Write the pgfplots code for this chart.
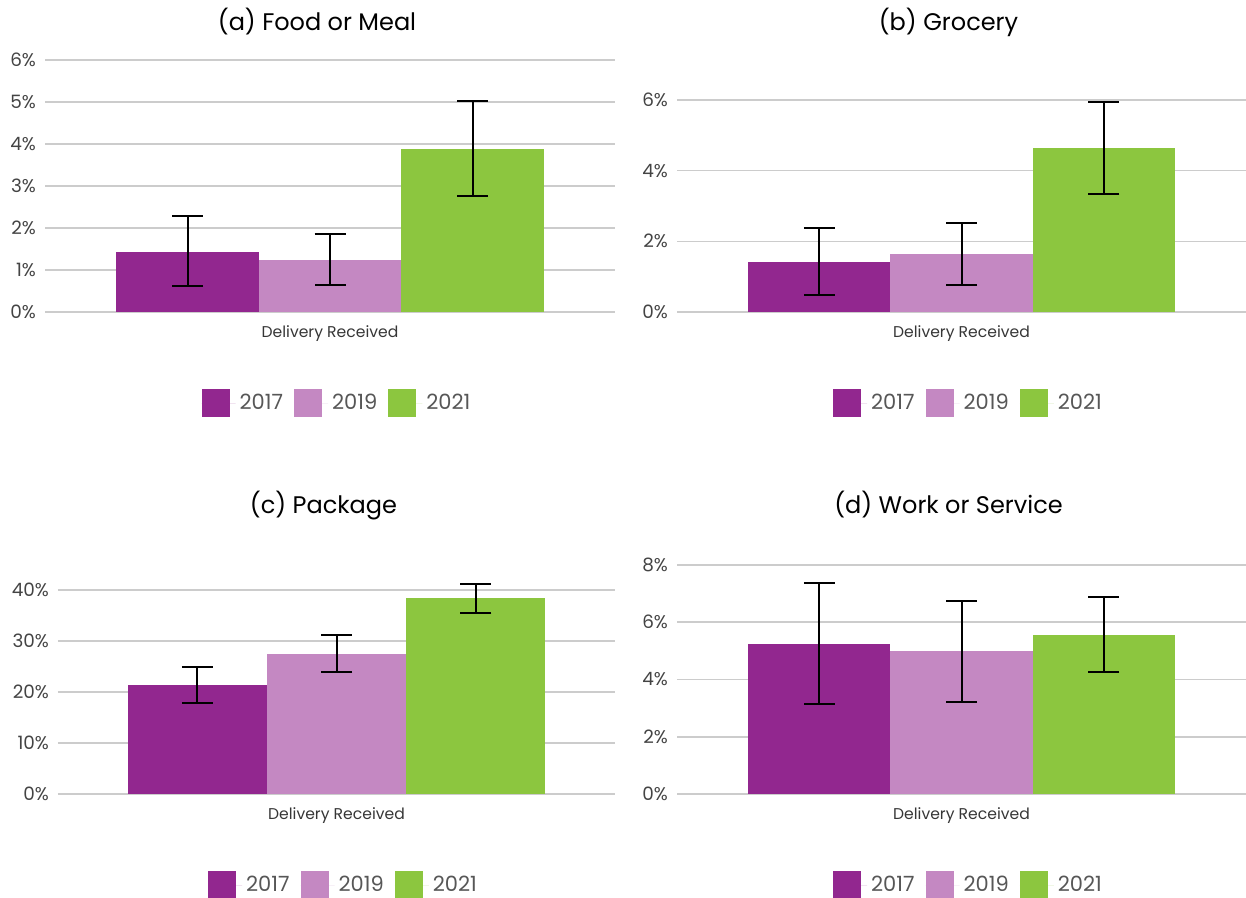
\documentclass[border=0pt]{standalone}
\usepackage{fontspec}
\setmainfont{Poppins}
\usepackage{pgfplots}
\pgfplotsset{compat=1.18}
\definecolor{cA}{HTML}{92278F}
\definecolor{cB}{HTML}{C488C2}
\definecolor{cC}{HTML}{8CC63F}
\definecolor{gridc}{HTML}{CCCCCC}
\definecolor{tickc}{HTML}{444444}
\pgfplotsset{
  panel/.style={
    scale only axis,
    anchor=south west,
    xmin=-2, xmax=2, ymin=0,
    clip=false,
    axis line style={draw=none},
    major tick length=0pt,
    ymajorgrids,
    grid style={gridc, line width=0.8pt},
    xtick={0}, xticklabels={Delivery Received},
    xticklabel style={anchor=center, yshift=-11pt, font=\fontsize{7.8}{9}\selectfont, text=tickc!80!black},
    yticklabel style={font=\fontsize{9.2}{11}\selectfont, text=tickc, anchor=east, xshift=-1pt},
    /pgf/number format/assume math mode=true,
    yticklabel={\pgfmathprintnumber{\tick}\%},
    title style={at={(0.5,1)}, anchor=center, xshift=-6.5pt, font=\fontsize{12}{14}\selectfont},
    ybar, bar width=1, bar shift=0,
    legend style={at={(0.5,0)}, anchor=center, yshift=-45.5pt, xshift=4pt, draw=none, legend columns=3,
      font=\fontsize{10.5}{12}\selectfont, text=tickc!90, /tikz/every even column/.append style={column sep=3.5pt}},
    legend image code/.code={\fill[##1] (0pt,-7pt) rectangle (14pt,7pt); \path (0pt,0pt) -- (17pt,0pt);},
    error bars/y dir=both, error bars/y explicit,
    error bars/error bar style={black, line width=1pt},
    error bars/error mark options={black, line width=1pt, mark size=7.75pt, rotate=90},
  },
  bA/.style={fill=cA, draw=none},
  bB/.style={fill=cB, draw=none},
  bC/.style={fill=cC, draw=none},
}
\begin{document}
\begin{tikzpicture}
\path[use as bounding box] (0pt,0pt) rectangle (623pt,-449pt);
% (a)
\begin{axis}[panel, at={(22.5pt,-156pt)}, width=285pt, height=126pt, ymax=6,
  ytick={0,1,2,3,4,5,6}, title={(a) Food or Meal}, title style={yshift=13pt}]
\addplot[bA] coordinates {(-1,1.43) += (0,0.86) -= (0,0.82)};
\addplot[bB] coordinates {(0,1.25) += (0,0.61) -= (0,0.61)};
\addplot[bC] coordinates {(1,3.89) += (0,1.14) -= (0,1.13)};
\legend{2017,2019,2021}
\end{axis}
% (b)
\begin{axis}[panel, at={(338.5pt,-156pt)}, width=284.5pt, height=106pt, ymax=6,
  ytick={0,2,4,6}, title={(b) Grocery}, title style={yshift=33pt}]
\addplot[bA] coordinates {(-1,1.41) += (0,0.96) -= (0,0.94)};
\addplot[bB] coordinates {(0,1.64) += (0,0.87) -= (0,0.89)};
\addplot[bC] coordinates {(1,4.63) += (0,1.32) -= (0,1.29)};
\legend{2017,2019,2021}
\end{axis}
% (c)
\begin{axis}[panel, at={(29pt,-397pt)}, width=278.5pt, height=127.5pt, ymax=50,
  ytick={0,10,20,30,40}, title={(c) Package}, title style={yshift=10.5pt}]
\addplot[bA] coordinates {(-1,21.3) += (0,3.7) -= (0,3.4)};
\addplot[bB] coordinates {(0,27.5) += (0,3.6) -= (0,3.6)};
\addplot[bC] coordinates {(1,38.4) += (0,2.8) -= (0,2.9)};
\legend{2017,2019,2021}
\end{axis}
% (d)
\begin{axis}[panel, at={(338.5pt,-397pt)}, width=284.5pt, height=114.5pt, ymax=8,
  ytick={0,2,4,6,8}, title={(d) Work or Service}, title style={yshift=24.5pt}]
\addplot[bA] coordinates {(-1,5.25) += (0,2.13) -= (0,2.12)};
\addplot[bB] coordinates {(0,4.98) += (0,1.75) -= (0,1.77)};
\addplot[bC] coordinates {(1,5.57) += (0,1.31) -= (0,1.29)};
\legend{2017,2019,2021}
\end{axis}
\end{tikzpicture}
\end{document}
